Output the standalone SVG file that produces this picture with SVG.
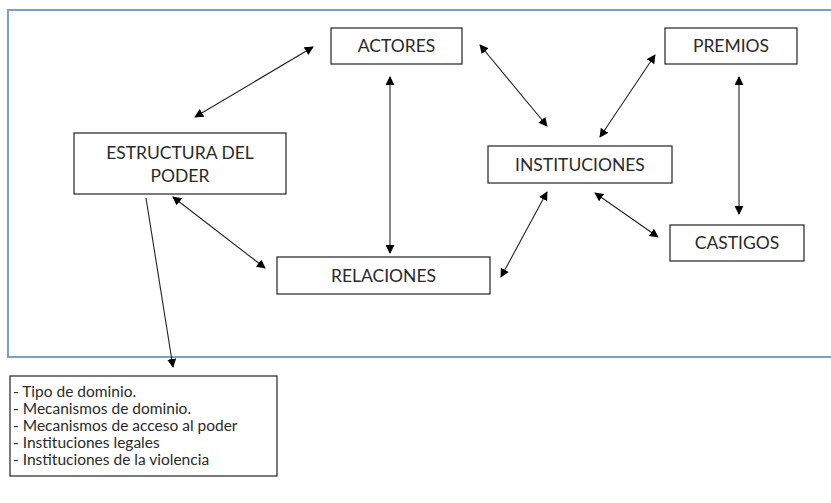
<svg xmlns="http://www.w3.org/2000/svg" width="831" height="503" viewBox="0 0 831 503">
<defs>
<marker id="ah" viewBox="0 0 10 10" refX="9" refY="5" markerWidth="9" markerHeight="9" markerUnits="userSpaceOnUse" orient="auto-start-reverse">
<path d="M0,0 L10,5 L0,10 z" fill="#000"/>
</marker>
<style>
.box{fill:#fff;stroke:#222;stroke-width:1.2}
.t{font-family:Lato,"Open Sans","Liberation Sans",sans-serif;font-size:17.5px;fill:#2a2a2a;text-anchor:middle}
.l{font-family:Lato,"Open Sans","Liberation Sans",sans-serif;font-size:15.5px;fill:#2a2a2a}
.c{stroke:#222;stroke-width:1.1;fill:none}
.d{marker-start:url(#ah);marker-end:url(#ah)}
.s{marker-end:url(#ah)}
</style>
</defs>
<rect width="831" height="503" fill="#fff"/>
<path d="M840,10 H8 V357 H840" fill="none" stroke="#7aa0c8" stroke-width="2"/>
<g id="connectors">
<line class="c d" x1="313" y1="47" x2="195" y2="117"/>
<line class="c d" x1="480" y1="45" x2="547" y2="126"/>
<line class="c d" x1="390" y1="77" x2="390" y2="253"/>
<line class="c d" x1="655" y1="55" x2="600" y2="137"/>
<line class="c d" x1="739" y1="77" x2="739" y2="214"/>
<line class="c d" x1="595" y1="193" x2="658" y2="237"/>
<line class="c d" x1="547" y1="192" x2="501" y2="277"/>
<line class="c d" x1="173" y1="197" x2="265" y2="268"/>
<line class="c s" x1="146" y1="198" x2="173" y2="367"/>
</g>
<g id="actores"><rect class="box" x="331" y="28" width="131" height="36"/><text class="t" x="396.5" y="52">ACTORES</text></g>
<g id="premios"><rect class="box" x="665" y="28" width="132" height="36"/><text class="t" x="731" y="52">PREMIOS</text></g>
<g id="estructura"><rect class="box" x="74" y="133" width="212" height="61"/><text class="t" x="180" y="159">ESTRUCTURA DEL</text><text class="t" x="180" y="182">PODER</text></g>
<g id="instituciones"><rect class="box" x="488" y="146" width="184" height="37"/><text class="t" x="580" y="171">INSTITUCIONES</text></g>
<g id="castigos"><rect class="box" x="670" y="225" width="134" height="36"/><text class="t" x="737" y="249">CASTIGOS</text></g>
<g id="relaciones"><rect class="box" x="277" y="257" width="213" height="37"/><text class="t" x="383.5" y="282">RELACIONES</text></g>
<g id="lista"><rect class="box" x="10" y="376" width="267" height="100"/>
<text class="l" x="13" y="397">- Tipo de dominio.</text>
<text class="l" x="13" y="414">- Mecanismos de dominio.</text>
<text class="l" x="13" y="431">- Mecanismos de acceso al poder</text>
<text class="l" x="13" y="448">- Instituciones legales</text>
<text class="l" x="13" y="465">- Instituciones de la violencia</text>
</g>
</svg>
